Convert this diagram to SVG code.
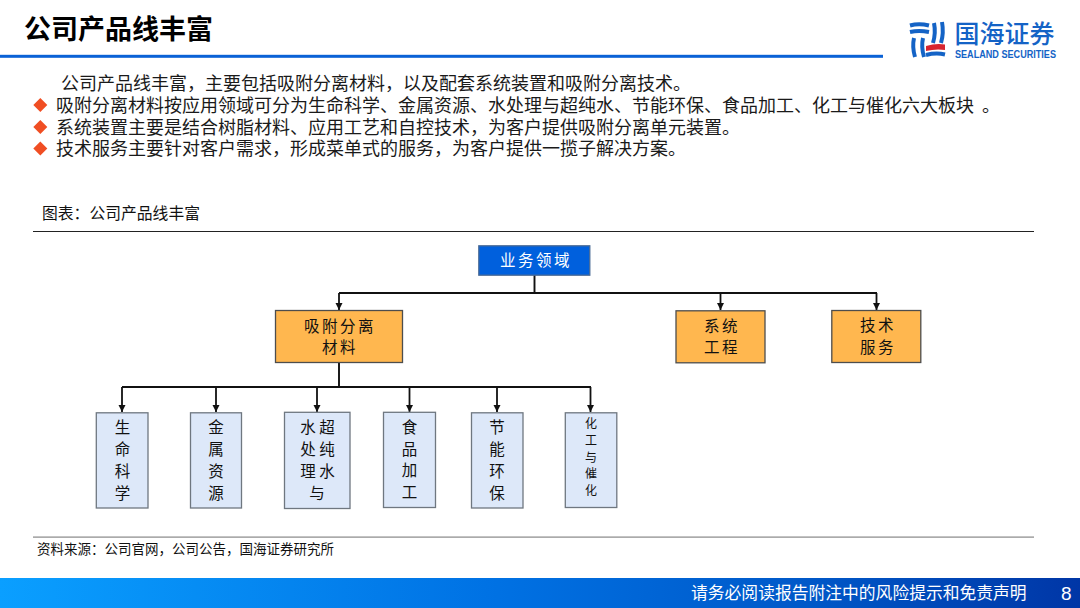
<svg xmlns="http://www.w3.org/2000/svg" width="1080" height="608" viewBox="0 0 1080 608">
<style>
text{font-family:"Noto Sans CJK SC","Liberation Sans",sans-serif;fill:#111}
.body{font-size:18px;fill:#1a1a1a}
.n{font-size:15.5px;text-anchor:middle;fill:#111}
.s{font-size:12px}
.o{fill:#ffb74f;stroke:#4d4d4d;stroke-width:1.3}
.b{fill:#dde8f9;stroke:#6f7780;stroke-width:1.3}
.c{fill:none;stroke:#111;stroke-width:1.8;marker-end:url(#ah)}
.l{fill:none;stroke:#111;stroke-width:1.9}
.lg{fill:none;stroke:#1463c6;stroke-width:4}
</style>
<defs>
<marker id="ah" markerUnits="userSpaceOnUse" markerWidth="8" markerHeight="8" refX="7" refY="4" orient="auto"><path d="M0 0.500L7 4L0 7.500Z" fill="#111"/></marker>
<linearGradient id="bar" x1="0" y1="0" x2="1" y2="0"><stop offset="0" stop-color="#0a9fff"/><stop offset=".45" stop-color="#0072e4"/><stop offset=".75" stop-color="#0058c8"/><stop offset="1" stop-color="#0036a6"/></linearGradient>
<path id="dm" d="M0-7L7 0L0 7L-7 0Z" fill="#f04e23"/>
</defs>
<rect width="1080" height="608" fill="#fff"/>
<g id="header">
<text x="24" y="39" font-size="27" font-weight="700" style="fill:#000">公司产品线丰富</text>
<rect x="0" y="54.800" width="883" height="3" fill="#0a62d6"/>
</g>
<g id="logo">
<path class="lg" d="M910 25.500Q919 23 929 25.500M910 32Q919 30 929 32"/>
<path class="lg" stroke-width="4" d="M914 38Q912 47 915 57M923 38Q921 47 924 57M934 23Q936 33 933 43M942 22Q944 33 941 43"/>
<path d="M926 46Q936 43 945 44.500V50Q936 48.500 926 51Z" fill="#d8252f"/>
<path class="lg" d="M926 55Q936 52.500 945 54.500"/>
<text x="954.500" y="43" font-size="25" font-weight="500" style="fill:#1463c6">国海证券</text>
<text x="955" y="57.500" font-size="10.400" font-weight="700" style="fill:#1463c6;font-family:'Liberation Sans',sans-serif" textLength="101" lengthAdjust="spacingAndGlyphs">SEALAND SECURITIES</text>
</g>
<g id="intro">
<text class="body" x="61" y="90">公司产品线丰富，主要包括吸附分离材料，以及配套系统装置和吸附分离技术。</text>
<use href="#dm" x="40.300" y="105"/>
<text class="body" x="56" y="112">吸附分离材料按应用领域可分为生命科学、金属资源、水处理与超纯水、节能环保、食品加工、化工与催化六大板块<tspan dx="4"> 。</tspan></text>
<use href="#dm" x="40.300" y="127"/>
<text class="body" x="56" y="134">系统装置主要是结合树脂材料、应用工艺和自控技术，为客户提供吸附分离单元装置。</text>
<use href="#dm" x="40.300" y="148.500"/>
<text class="body" x="56" y="155">技术服务主要针对客户需求，形成菜单式的服务，为客户提供一揽子解决方案。</text>
</g>
<g id="caption">
<text x="42" y="219" font-size="15.800">图表：公司产品线丰富</text>
<rect x="33" y="231" width="1001" height="1" fill="#222"/>
</g>
<g id="connectors">
<path class="l" d="M534.500 275V293M339 293H877M339 362V387M122 387H591"/>
<path class="c" d="M339 293V310"/>
<path class="c" d="M720.500 293V310"/>
<path class="c" d="M876.500 293V310"/>
<path class="c" d="M122 387V412"/>
<path class="c" d="M216 387V412"/>
<path class="c" d="M317 387V412"/>
<path class="c" d="M409.500 387V412"/>
<path class="c" d="M497 387V412"/>
<path class="c" d="M590.500 387V412"/>
</g>
<g id="n-root">
<rect x="478.800" y="245.800" width="111" height="29.400" fill="#0060dd" stroke="#4a6a95" stroke-width="1.300"/>
<text class="n" x="536" y="266" letter-spacing="2.500" style="fill:#fff">业务领域</text>
</g>
<g id="n-adsorb">
<rect class="o" x="275.500" y="310.500" width="127" height="52"/>
<text class="n" x="340" y="332" letter-spacing="2.500">吸附分离</text>
<text class="n" x="340" y="353" letter-spacing="2.500">材料</text>
</g>
<g id="n-system">
<rect class="o" x="676" y="310.800" width="89" height="52"/>
<text class="n" x="722" y="332" letter-spacing="2.500">系统</text>
<text class="n" x="722" y="353" letter-spacing="2.500">工程</text>
</g>
<g id="n-service">
<rect class="o" x="831.800" y="310.500" width="89" height="52"/>
<text class="n" x="878" y="331" letter-spacing="2.500">技术</text>
<text class="n" x="878" y="353" letter-spacing="2.500">服务</text>
</g>
<g id="n-life">
<rect class="b" x="96.300" y="412.800" width="51.700" height="95.200"/>
<text class="n" x="122.500" y="433">生</text><text class="n" x="122.500" y="455">命</text><text class="n" x="122.500" y="477">科</text><text class="n" x="122.500" y="499">学</text>
</g>
<g id="n-metal">
<rect class="b" x="190.500" y="412.800" width="51" height="95.200"/>
<text class="n" x="216" y="433">金</text><text class="n" x="216" y="455">属</text><text class="n" x="216" y="477">资</text><text class="n" x="216" y="499">源</text>
</g>
<g id="n-water">
<rect class="b" x="284.500" y="412.300" width="65.500" height="96.200"/>
<text class="n" x="308" y="433">水</text><text class="n" x="327" y="433">超</text>
<text class="n" x="308" y="455">处</text><text class="n" x="327" y="455">纯</text>
<text class="n" x="308" y="477">理</text><text class="n" x="327" y="477">水</text>
<text class="n" x="317" y="499">与</text>
</g>
<g id="n-food">
<rect class="b" x="383.500" y="412.300" width="52" height="95.200"/>
<text class="n" x="409.500" y="433">食</text><text class="n" x="409.500" y="455">品</text><text class="n" x="409.500" y="476">加</text><text class="n" x="409.500" y="498">工</text>
</g>
<g id="n-energy">
<rect class="b" x="471.500" y="412.800" width="51.500" height="95.200"/>
<text class="n" x="497" y="433">节</text><text class="n" x="497" y="455">能</text><text class="n" x="497" y="477">环</text><text class="n" x="497" y="499">保</text>
</g>
<g id="n-chem">
<rect class="b" x="565.300" y="412.800" width="51.500" height="94.700"/>
<text class="n s" x="591" y="428">化</text><text class="n s" x="591" y="445">工</text><text class="n s" x="591" y="462">与</text><text class="n s" x="591" y="478">催</text><text class="n s" x="591" y="495">化</text>
</g>
<g id="source">
<rect x="33" y="536.500" width="1001" height="1.200" fill="#888"/>
<text x="37" y="554" font-size="13.500">资料来源：公司官网，公司公告，国海证券研究所</text>
</g>
<g id="footer">
<rect x="0" y="578" width="1080" height="30" fill="url(#bar)"/>
<text x="691" y="599" font-size="16.800" style="fill:#fff">请务必阅读报告附注中的风险提示和免责声明</text>
<text x="1061" y="600" font-size="19" style="fill:#fff;font-family:'Liberation Sans',sans-serif">8</text>
</g>
</svg>
